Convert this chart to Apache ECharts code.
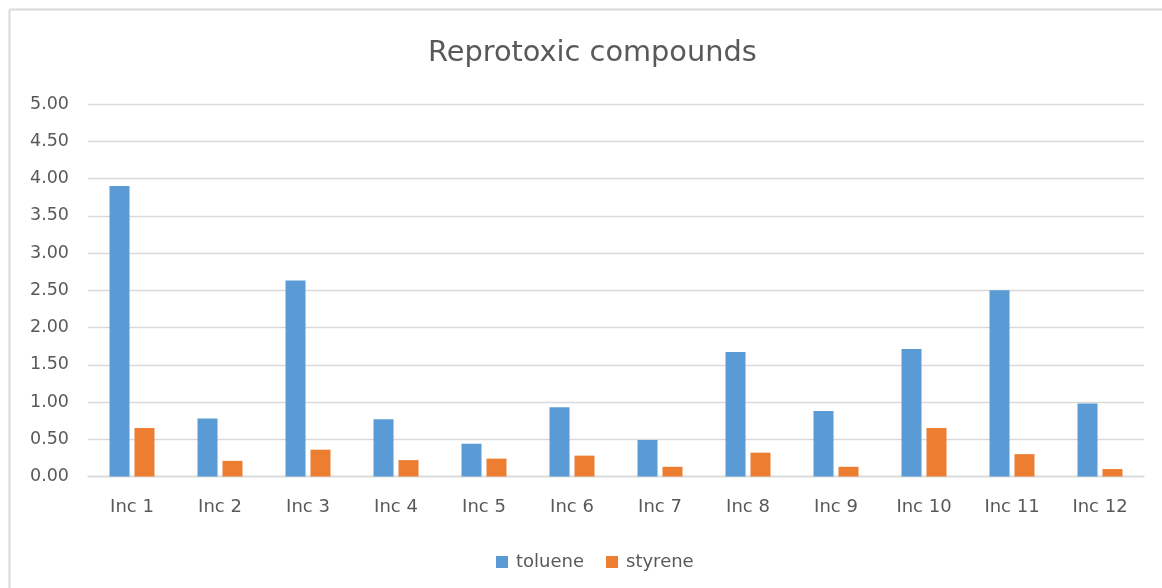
<!DOCTYPE html>
<html>
<head>
<meta charset="utf-8">
<script src="https://cdn.jsdelivr.net/npm/echarts@6/dist/echarts.min.js"></script>
<style>
html,body{margin:0;padding:0;background:#fff;}
#chart{width:1162px;height:588px;}
</style>
</head>
<body>
<div id="chart"></div>
<script>
var categories = ['Inc 1','Inc 2','Inc 3','Inc 4','Inc 5','Inc 6','Inc 7','Inc 8','Inc 9','Inc 10','Inc 11','Inc 12'];
var toluene = [3.90, 0.78, 2.63, 0.77, 0.44, 0.93, 0.49, 1.67, 0.88, 1.71, 2.50, 0.98];
var styrene = [0.65, 0.21, 0.36, 0.22, 0.24, 0.28, 0.13, 0.32, 0.13, 0.65, 0.30, 0.10];
var seriesNames = ['toluene', 'styrene'];

var chart = echarts.init(document.getElementById('chart'), null, {renderer: 'canvas'});
var font = '"DejaVu Sans", sans-serif';
chart.setOption({
  animation: false,
  backgroundColor: '#fff',
  title: {
    text: 'Reprotoxic compounds',
    left: 423,
    top: 34,
    textStyle: {fontFamily: font, fontSize: 28.8, fontWeight: 'normal', color: '#595959'}
  },
  graphic: [
    {type: 'line', shape: {x1: 9.5, y1: 9.5, x2: 1162, y2: 9.5}, style: {stroke: '#D9D9D9', lineWidth: 2}},
    {type: 'line', shape: {x1: 9.5, y1: 9.5, x2: 9.5, y2: 588}, style: {stroke: '#D9D9D9', lineWidth: 2}}
  ],
  legend: {
    data: seriesNames,
    top: 548,
    left: 491,
    itemWidth: 12,
    itemHeight: 12,
    itemGap: 22,
    icon: 'rect',
    textStyle: {fontFamily: font, fontSize: 18, color: '#595959', padding: [0,0,0,3]}
  },
  grid: {left: 88, right: 18, top: 104, bottom: 111.5, containLabel: false},
  xAxis: {
    type: 'category',
    data: categories,
    axisLine: {lineStyle: {color: '#D9D9D9', width: 1.3}},
    axisTick: {show: false},
    axisLabel: {fontFamily: font, fontSize: 18, color: '#595959', margin: 22}
  },
  yAxis: {
    type: 'value',
    min: 0, max: 5, interval: 0.5,
    axisLine: {show: false},
    axisTick: {show: false},
    splitLine: {lineStyle: {color: '#D9D9D9', width: 1.3}},
    axisLabel: {fontFamily: font, fontSize: 17.5, color: '#595959', margin: 19,
      formatter: function (v) { return v.toFixed(2); }}
  },
  series: [
    {name: seriesNames[0], type: 'bar', data: toluene, barWidth: 20, barGap: '25%',
      itemStyle: {color: '#5B9BD5'}},
    {name: seriesNames[1], type: 'bar', data: styrene, barWidth: 20, barGap: '25%',
      itemStyle: {color: '#ED7D31'}}
  ]
});
</script>
</body>
</html>
